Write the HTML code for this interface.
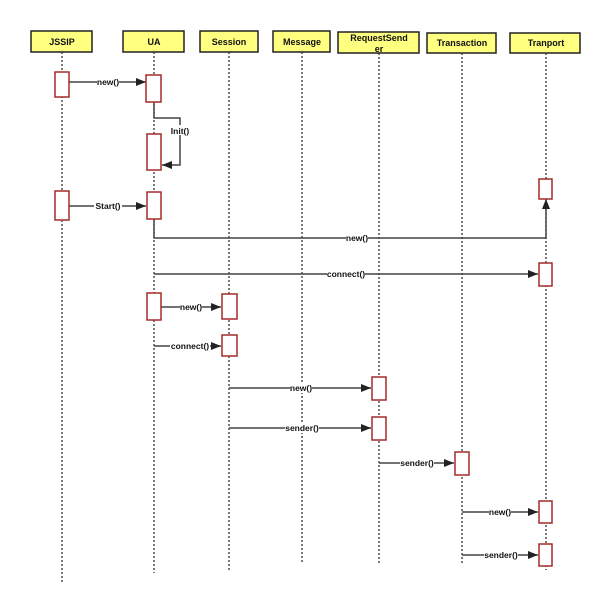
<!DOCTYPE html>
<html><head><style>html,body{margin:0;padding:0;background:#fff}</style></head>
<body>
<svg width="601" height="603" xmlns="http://www.w3.org/2000/svg" font-family="'Liberation Sans', sans-serif">
<defs><marker id="a" markerWidth="10" markerHeight="8" refX="10" refY="4" orient="auto" markerUnits="userSpaceOnUse"><path d="M0,0 L10,4 L0,8 z" fill="#222"/></marker></defs>
<g fill="#ffff80" stroke="#222" stroke-width="1.5">
<rect x="31" y="31" width="61" height="21"/>
<rect x="123" y="31" width="61" height="21"/>
<rect x="200" y="31" width="58" height="21"/>
<rect x="273" y="31" width="57" height="21"/>
<rect x="338" y="32" width="81" height="21"/>
<rect x="427" y="33" width="69" height="20"/>
<rect x="510" y="33" width="70" height="20"/>
</g>
<g font-size="9" font-weight="bold" text-anchor="middle" fill="#111">
<text x="62" y="45">JSSIP</text>
<text x="154" y="45">UA</text>
<text x="229" y="45">Session</text>
<text x="302" y="45">Message</text>
<text x="379" y="41">RequestSend</text>
<text x="379" y="52">er</text>
<text x="462" y="46">Transaction</text>
<text x="546" y="46">Tranport</text>
</g>
<g stroke="#333" stroke-width="1.3" stroke-dasharray="2,2">
<line x1="62" y1="52" x2="62" y2="583"/>
<line x1="154" y1="52" x2="154" y2="573"/>
<line x1="229" y1="52" x2="229" y2="570"/>
<line x1="302" y1="52" x2="302" y2="563"/>
<line x1="379" y1="53" x2="379" y2="565"/>
<line x1="462" y1="53" x2="462" y2="565"/>
<line x1="546" y1="53" x2="546" y2="570"/>
</g>
<g stroke="#444" stroke-width="1.5" fill="none">
<line x1="69" y1="82" x2="146" y2="82" marker-end="url(#a)"/>
<polyline points="154,102 154,118 180,118 180,165 162,165" marker-end="url(#a)"/>
<line x1="69" y1="206" x2="146" y2="206" marker-end="url(#a)"/>
<polyline points="154,219 154,238 546,238 546,199" marker-end="url(#a)"/>
<line x1="154" y1="274" x2="538" y2="274" marker-end="url(#a)"/>
<line x1="161" y1="307" x2="221" y2="307" marker-end="url(#a)"/>
<line x1="154" y1="346" x2="221" y2="346" marker-end="url(#a)"/>
<line x1="229" y1="388" x2="371" y2="388" marker-end="url(#a)"/>
<line x1="229" y1="428" x2="371" y2="428" marker-end="url(#a)"/>
<line x1="379" y1="463" x2="454" y2="463" marker-end="url(#a)"/>
<line x1="462" y1="512" x2="538" y2="512" marker-end="url(#a)"/>
<line x1="462" y1="555" x2="538" y2="555" marker-end="url(#a)"/>
</g>
<g fill="#fff" stroke="#a52a2a" stroke-width="1.5">
<rect x="55" y="72" width="14" height="25"/>
<rect x="146" y="75" width="15" height="27"/>
<rect x="147" y="134" width="14" height="36"/>
<rect x="55" y="191" width="14" height="29"/>
<rect x="147" y="192" width="14" height="27"/>
<rect x="539" y="179" width="13" height="20"/>
<rect x="539" y="263" width="13" height="23"/>
<rect x="147" y="293" width="14" height="27"/>
<rect x="222" y="294" width="15" height="25"/>
<rect x="222" y="335" width="15" height="21"/>
<rect x="372" y="377" width="14" height="23"/>
<rect x="372" y="417" width="14" height="23"/>
<rect x="455" y="452" width="14" height="23"/>
<rect x="539" y="501" width="13" height="22"/>
<rect x="539" y="544" width="13" height="22"/>
</g>
<g fill="#fff" stroke="none">
<rect x="97" y="77" width="22" height="10"/><rect x="169" y="125" width="22" height="10"/><rect x="94" y="201" width="28" height="10"/>
<rect x="346" y="233" width="22" height="10"/><rect x="327" y="269" width="38" height="10"/><rect x="180" y="302" width="22" height="10"/>
<rect x="170" y="341" width="40" height="10"/><rect x="290" y="383" width="22" height="10"/><rect x="285" y="423" width="34" height="10"/>
<rect x="400" y="458" width="34" height="10"/><rect x="489" y="507" width="22" height="10"/><rect x="484" y="550" width="34" height="10"/>
</g>
<g font-size="8.5" font-weight="bold" text-anchor="middle" fill="#111">
<text x="108" y="85">new()</text>
<text x="180" y="134">Init()</text>
<text x="108" y="209">Start()</text>
<text x="357" y="241">new()</text>
<text x="346" y="277">connect()</text>
<text x="191" y="310">new()</text>
<text x="190" y="349">connect()</text>
<text x="301" y="391">new()</text>
<text x="302" y="431">sender()</text>
<text x="417" y="466">sender()</text>
<text x="500" y="515">new()</text>
<text x="501" y="558">sender()</text>
</g>
</svg>
</body></html>
